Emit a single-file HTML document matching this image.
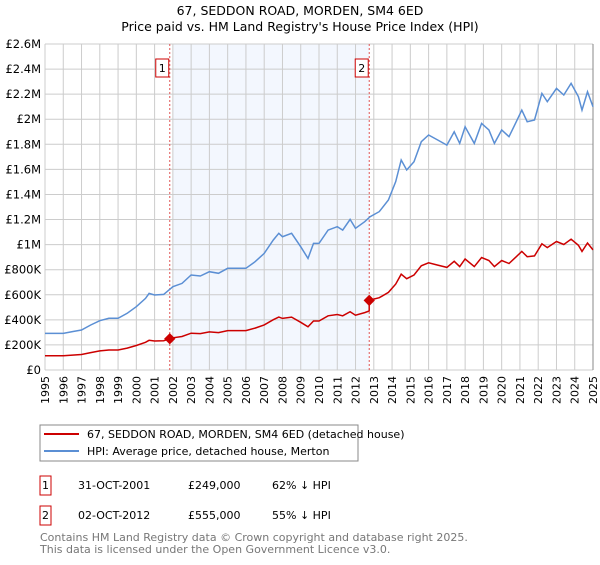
<!DOCTYPE html>
<html><head><meta charset="utf-8"><style>
body{margin:0;background:#fff;font-family:"Liberation Sans","DejaVu Sans",sans-serif;}
svg text{font-family:"DejaVu Sans","Liberation Sans",sans-serif;}
</style></head><body>
<svg id="chart" width="600" height="560" xmlns="http://www.w3.org/2000/svg">
<text x="300" y="15" text-anchor="middle" font-size="12.5">67, SEDDON ROAD, MORDEN, SM4 6ED</text>
<text x="300" y="31" text-anchor="middle" font-size="12.5">Price paid vs. HM Land Registry's House Price Index (HPI)</text>
<g id="plot"></g>
<g>
<rect x="40" y="425" width="318" height="36" fill="#fff" stroke="#888"/>
<line x1="44" y1="434" x2="79" y2="434" stroke="#cc0000" stroke-width="2"/>
<text x="87" y="438" font-size="11">67, SEDDON ROAD, MORDEN, SM4 6ED (detached house)</text>
<line x1="44" y1="451" x2="79" y2="451" stroke="#5b8fd4" stroke-width="2"/>
<text x="87" y="455" font-size="11">HPI: Average price, detached house, Merton</text>
</g>
<g font-size="11">
<rect x="40" y="476" width="11" height="19" fill="none" stroke="#cc0000"/>
<text x="45.5" y="489" text-anchor="middle">1</text>
<text x="78" y="489">31-OCT-2001</text><text x="188" y="489">£249,000</text><text x="272" y="489">62% ↓ HPI</text>
<rect x="40" y="506" width="11" height="19" fill="none" stroke="#cc0000"/>
<text x="45.5" y="519" text-anchor="middle">2</text>
<text x="78" y="519">02-OCT-2012</text><text x="188" y="519">£555,000</text><text x="272" y="519">55% ↓ HPI</text>
</g>
<text x="40" y="541" font-size="11" fill="#777">Contains HM Land Registry data © Crown copyright and database right 2025.</text>
<text x="40" y="553" font-size="11" fill="#777">This data is licensed under the Open Government Licence v3.0.</text>
</svg>
<script>
const hpiYears=[1995,1996,1996.5,1997,1997.5,1998,1998.5,1999,1999.5,2000,2000.5,2000.7,2001,2001.5,2002,2002.5,2003,2003.5,2004,2004.5,2005,2005.5,2006,2006.5,2007,2007.5,2007.8,2008,2008.5,2009,2009.4,2009.7,2010,2010.5,2011,2011.3,2011.7,2012,2012.5,2012.8,2013.3,2013.8,2014.2,2014.5,2014.8,2015.2,2015.6,2016,2016.5,2017,2017.4,2017.7,2018,2018.5,2018.9,2019.3,2019.6,2020,2020.4,2020.8,2021.1,2021.4,2021.8,2022.2,2022.5,2023,2023.4,2023.8,2024.2,2024.4,2024.7,2025];
const hpiValues=[292,292,306,319,359,393,412,412,452,505,571,611,598,603,664,691,758,750,784,771,811,811,811,864,930,1037,1090,1063,1090,983,890,1010,1010,1116,1143,1116,1201,1130,1183,1223,1263,1356,1502,1675,1595,1661,1821,1874,1834,1794,1900,1807,1940,1807,1967,1914,1807,1914,1861,1980,2073,1980,1994,2206,2140,2246,2193,2286,2180,2073,2219,2100];
const saleYears=[2001.83,2012.75];
const salePrices=[249,555];
const saleLabels=["1","2"];
const yTicks=[0,200,400,600,800,1000,1200,1400,1600,1800,2000,2200,2400,2600];
const yTickLabels=["£0","£200K","£400K","£600K","£800K","£1M","£1.2M","£1.4M","£1.6M","£1.8M","£2M","£2.2M","£2.4M","£2.6M"];
const xTicks=[1995,1996,1997,1998,1999,2000,2001,2002,2003,2004,2005,2006,2007,2008,2009,2010,2011,2012,2013,2014,2015,2016,2017,2018,2019,2020,2021,2022,2023,2024,2025];

const L=45,R=593,T=44,B=370;
const xs=y=>L+(y-1995)/30*(R-L);
const ys=v=>B-v/2600*(B-T);
const NS="http://www.w3.org/2000/svg";
const g=document.getElementById('plot');
function mk(t,a){const e=document.createElementNS(NS,t);for(const k in a)e.setAttribute(k,a[k]);g.appendChild(e);return e;}
function hpiAt(y){for(let i=0;i<hpiYears.length-1;i++){if(y<=hpiYears[i+1]){const f=(y-hpiYears[i])/(hpiYears[i+1]-hpiYears[i]);return hpiValues[i]+f*(hpiValues[i+1]-hpiValues[i]);}}return hpiValues[hpiValues.length-1];}

let bg=mk('rect',{x:xs(2002),y:T,width:xs(saleYears[1])-xs(2002),height:B-T,fill:'#f3f7fe'});


xTicks.forEach(t=>{const l=mk('line',{x1:xs(t),x2:xs(t),y1:T,y2:B,stroke:'#ccc'});


const tx=mk('text',{x:0,y:0,'font-size':11,'text-anchor':'end',transform:`translate(${xs(t)+4},${B+6}) rotate(-90)`});tx.textContent=t;

});
yTicks.forEach((t,i)=>{const l=mk('line',{x1:L,x2:R,y1:ys(t),y2:ys(t),stroke:'#ccc'});


const tx=mk('text',{x:L-4,y:ys(t)+4,'font-size':11.5,'text-anchor':'end'});tx.textContent=yTickLabels[i];

});
mk('line',{x1:R,x2:R,y1:T,y2:B,stroke:'#888'});

saleYears.forEach((s,i)=>{const l=mk('line',{x1:xs(s),x2:xs(s),y1:T,y2:B,stroke:'#e05555','stroke-dasharray':'2,2'});


const r=mk('rect',{x:xs(s)-14,y:59,width:13,height:18,fill:'#fff',stroke:'#cc0000'});


const t=mk('text',{x:xs(s)-7.5,y:72,'font-size':11,'text-anchor':'middle'});t.textContent=saleLabels[i];

});

const hp=hpiYears.map((y,i)=>xs(y).toFixed(1)+','+ys(hpiValues[i]).toFixed(1)).join(' ');
const hl=mk('polyline',{points:hp,fill:'none',stroke:'#5b8fd4','stroke-width':1.5});



function factor(y){if(y<saleYears[1])return salePrices[0]/hpiAt(saleYears[0]);return salePrices[1]/hpiAt(saleYears[1]);}
let pts=[];hpiYears.forEach((y,i)=>{pts.push([y,hpiValues[i]*factor(y)]);});
saleYears.forEach((s,i)=>{pts.push([s-0.001,hpiAt(s)*factor(s-0.001)]);pts.push([s,salePrices[i]]);});
pts.sort((a,b)=>a[0]-b[0]);
const rl=mk('polyline',{points:pts.map(p=>xs(p[0]).toFixed(1)+','+ys(p[1]).toFixed(1)).join(' '),fill:'none',stroke:'#cc0000','stroke-width':1.5});


saleYears.forEach((s,i)=>{const d=mk('rect',{x:xs(s)-4,y:ys(salePrices[i])-4,width:8,height:8,fill:'#cc0000',transform:`rotate(45 ${xs(s)} ${ys(salePrices[i])})`});

});
</script>
</body></html>
